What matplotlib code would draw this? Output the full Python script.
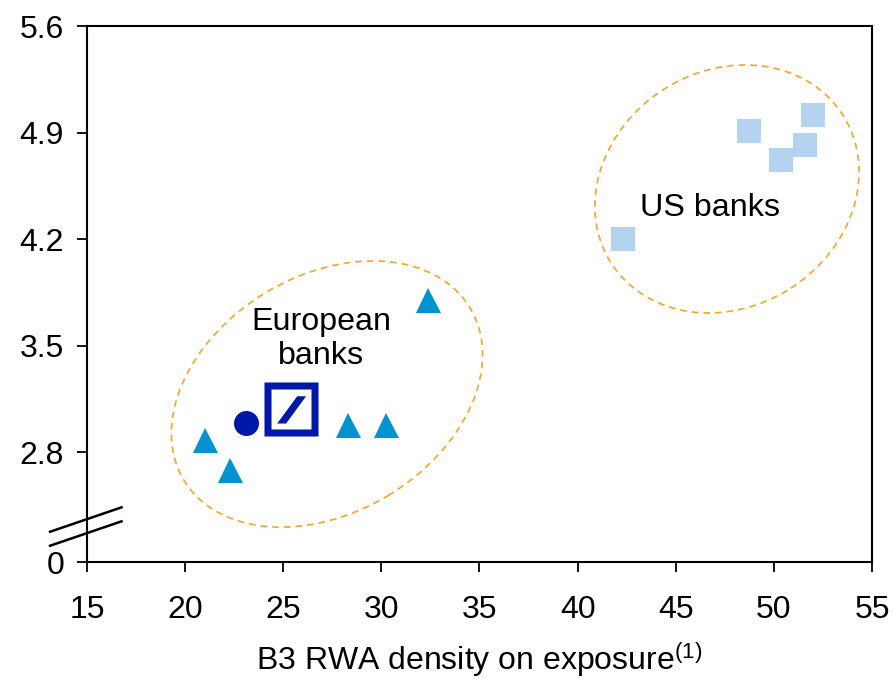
import matplotlib
matplotlib.use("Agg")
import matplotlib.pyplot as plt
from matplotlib.path import Path
from matplotlib.patches import Ellipse
import matplotlib.transforms as mtransforms
import numpy as np

plt.rcParams['font.family'] = ['Liberation Sans', 'DejaVu Sans']
plt.rcParams['mathtext.fontset'] = 'custom'
plt.rcParams['mathtext.rm'] = 'Liberation Sans'
plt.rcParams['mathtext.it'] = 'Liberation Sans'

# ---- data ----
eu_x = [21.0, 22.3, 28.3, 30.26, 32.4]
eu_y = [2.88, 2.685, 2.98, 2.98, 3.80]
peer_x = [23.08]
peer_y = [2.99]
db_x = [25.4]
db_y = [3.08]
us_x = [52.0, 48.73, 51.58, 50.36, 42.3]
us_y = [5.015, 4.91, 4.82, 4.72, 4.20]

x_ticks = [15, 20, 25, 30, 35, 40, 45, 50, 55]
y_break = 2.077
y_ticks = [y_break, 2.8, 3.5, 4.2, 4.9, 5.6]
y_labels = ['0', '2.8', '3.5', '4.2', '4.9', '5.6']

# ---- figure ----
fig = plt.figure(figsize=(8.93, 6.81), dpi=100)
ax = fig.add_axes([0.0974, 0.1747, 0.8791, 0.7871])
ax.set_xlim(15, 55)
ax.set_ylim(y_break, 5.6)

orange = '#F5A623'
# ellipses (size in inches, centred in data coords)
groups = [
    dict(c=(27.23, 3.181), w=3.34, h=2.37, a=31.0),
    dict(c=(47.61, 4.529), w=2.75, h=2.36, a=32.7),
]
for g in groups:
    tr = fig.dpi_scale_trans + mtransforms.ScaledTranslation(g['c'][0], g['c'][1], ax.transData)
    e = Ellipse((0, 0), g['w'], g['h'], angle=g['a'], transform=tr,
                fill=False, edgecolor=orange, linewidth=1.2, linestyle=(0, (4, 3)), zorder=1)
    ax.add_patch(e)

ax.plot(eu_x, eu_y, linestyle='none', marker='^', markersize=18,
        color='#0093D0', markeredgewidth=0, zorder=3)
ax.plot(peer_x, peer_y, linestyle='none', marker='o', markersize=18,
        color='#0018A8', markeredgewidth=0, zorder=3)
ax.plot(us_x, us_y, linestyle='none', marker='s', markersize=17.3,
        color='#B4D3F0', markeredgewidth=0, zorder=3)

# Deutsche Bank logo marker
o = 1.0
i = 0.74
verts = [(-o, -o), (o, -o), (o, o), (-o, o), (-o, -o),
         (-i, -i), (-i, i), (i, i), (i, -i), (-i, -i),
         (-0.53, -0.52), (-0.20, -0.52), (0.54, 0.49), (0.21, 0.49), (-0.53, -0.52)]
codes = ([Path.MOVETO] + [Path.LINETO] * 3 + [Path.CLOSEPOLY]) * 3
logo = Path(verts, codes)
ax.plot(db_x, db_y, linestyle='none', marker=logo, markersize=38.9,
        color='#0018A8', markeredgewidth=0, zorder=3)

# group labels
ax.text(26.95, 3.543, 'European\nbanks', ha='center', va='center',
        fontsize=23.2, linespacing=1.15, zorder=4)
ax.text(46.75, 4.351, 'US banks', ha='center', va='baseline', fontsize=23.2, zorder=4)

# axes styling
for s in ax.spines.values():
    s.set_linewidth(1.5)
ax.set_xticks(x_ticks)
ax.set_yticks(y_ticks)
ax.set_yticklabels(y_labels)
ax.tick_params(axis='both', direction='out', length=7.5, width=1.3, labelsize=23)
ax.tick_params(axis='y', pad=9)
ax.tick_params(axis='x', pad=16)
ax.set_xlabel('B3 RWA density on exposure$^{(1)}$', fontsize=23, labelpad=11)

# axis break marks
for yy in (0.0565, 0.0304):
    ax.plot([-0.047, 0.044], [yy, yy + 0.0455], transform=ax.transAxes,
            color='black', linewidth=1.8, clip_on=False, zorder=5)

fig.savefig('out.png', dpi=100)
